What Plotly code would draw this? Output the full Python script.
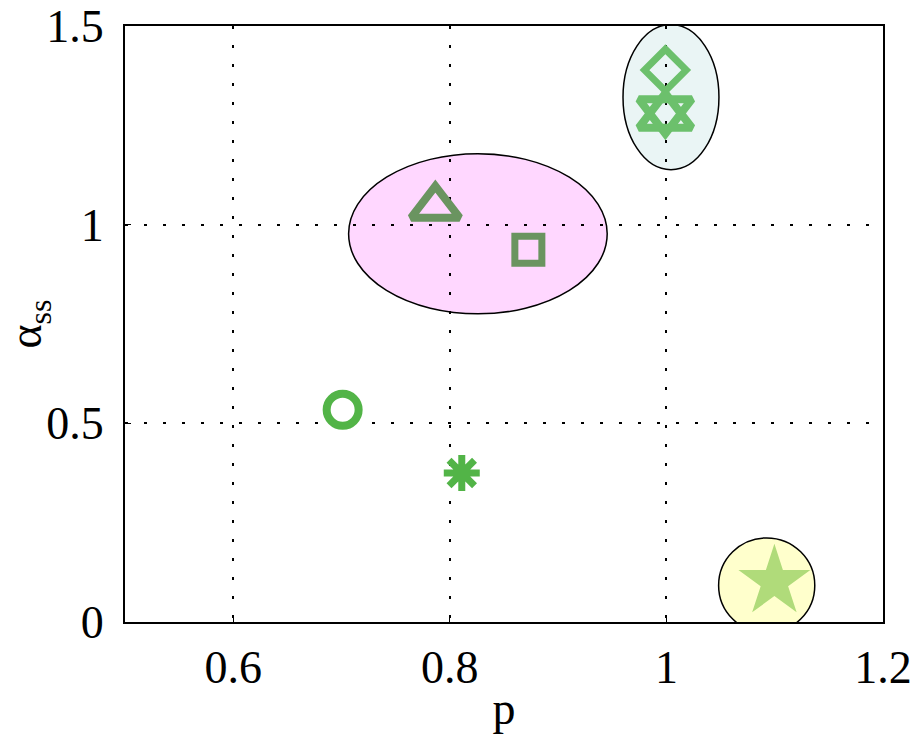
import plotly.graph_objects as go

# Data points (p, alpha_ss)
circle_p, circle_a = [0.701], [0.534]
aster_p, aster_a = [0.811], [0.375]
tri_p, tri_a = [0.7866], [1.044]
sq_p, sq_a = [0.8725], [0.937]
dia_p, dia_a = [0.999], [1.389]
tdown_p, tdown_a = [0.999], [1.287]
tup_p, tup_a = [0.999], [1.273]
star_p, star_a = [1.0997], [0.1015]

# Cluster ellipses: centre p, centre alpha, half-width, half-height
ell_cp = [0.8259, 1.0042, 1.0926]
ell_ca = [0.977, 1.321, 0.092]
ell_rp = [0.1194, 0.0443, 0.0444]
ell_ra = [0.2015, 0.1826, 0.1196]
ell_fill = ["#ffd7ff", "#eaf5f5", "#ffffcc"]

fig = go.Figure()

def add(px, py, symbol, color, size, lw):
    fig.add_trace(go.Scatter(x=px, y=py, mode="markers",
                             marker=dict(symbol=symbol, size=size, color=color,
                                         line=dict(color=color, width=lw)),
                             showlegend=False))

add(circle_p, circle_a, "circle-open", "#52b447", 32, 8)
add(aster_p, aster_a, "asterisk-open", "#52b447", 30, 7)
add(tri_p, tri_a, "triangle-up-open", "#6a9460", 42, 8)
add(sq_p, sq_a, "square-open", "#6a9460", 27, 7)
add(dia_p, dia_a, "diamond-open", "#6cc06c", 32, 7)
add(tdown_p, tdown_a, "triangle-down-open", "#6cc06c", 46, 8)
add(tup_p, tup_a, "triangle-up-open", "#6cc06c", 46, 8)
add(star_p, star_a, "star", "#b0db7a", 54, 0)

for cp, ca, rp, ra, fc in zip(ell_cp, ell_ca, ell_rp, ell_ra, ell_fill):
    fig.add_shape(type="circle", xref="x", yref="y",
                  x0=cp - rp, x1=cp + rp, y0=ca - ra, y1=ca + ra,
                  fillcolor=fc, line=dict(color="black", width=1.5),
                  layer="below")

font = dict(family="Liberation Serif", size=46, color="black")
axis_common = dict(showline=True, linecolor="black", linewidth=2, mirror=True,
                   showgrid=True, gridcolor="black", gridwidth=2, griddash="3px,16px",
                   ticks="inside", ticklen=6, tickcolor="black", zeroline=False,
                   tickfont=font, automargin=False, ticklabeloverflow="allow")

fig.update_layout(
    width=912, height=739,
    margin=dict(l=125, r=29, t=26, b=117),
    plot_bgcolor="white", paper_bgcolor="white",
    xaxis=dict(range=[0.5, 1.2], tickvals=[0.6, 0.8, 1.0, 1.2],
               ticktext=["0.6", "0.8", "1", "1.2"], ticklabelstandoff=4,
               title=dict(text="p", font=font, standoff=0), **axis_common),
    yaxis=dict(range=[0, 1.5], tickvals=[0, 0.5, 1, 1.5],
               ticktext=["0", "0.5", "1", "1.5"], ticklabelstandoff=10,
               title=dict(text="α<sub>ss</sub>", font=font, standoff=4), **axis_common),
)

fig.write_html("out.html", config={"displayModeBar": False},
               post_script="document.body.style.margin='0px';")
